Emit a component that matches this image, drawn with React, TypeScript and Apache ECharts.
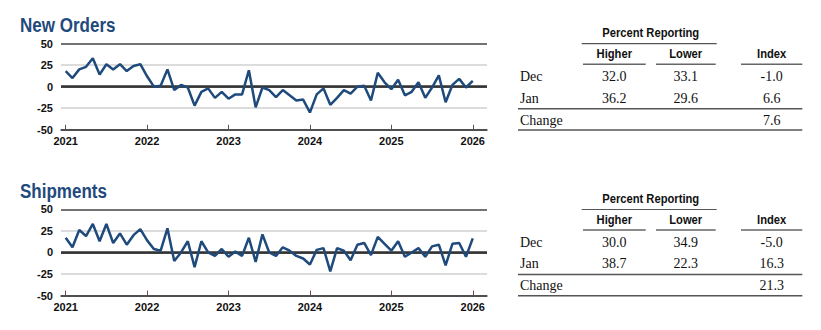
import React, { useEffect, useRef } from "react";
import * as echarts from "echarts";

// ---- data ----
const yearLabels = ["2021", "2022", "2023", "2024", "2025", "2026"];
const yearTickMonths = [0, 12, 24, 36, 48, 60];

const newOrders = [
  18, 10, 20, 23, 33, 14, 26, 20, 26, 18, 24, 26,
  12, 0, 1, 20, -4, 2, -1, -22, -6, -2, -13, -6,
  -14, -9, -9, 19, -24, -1, -4, -12, -4, -10, -16, -15,
  -30, -9, -2, -21, -13, -4, -8, 0, 1, -16, 16, 5,
  -3, 8, -10, -6, 5, -13, -1, 13, -18, 2, 9, -1.0,
  6.6,
];

const shipments = [
  17, 6, 26, 19, 33, 13, 33, 11, 22, 9, 20, 27,
  14, 4, 2, 28, -10, 0, 13, -17, 13, 0, -4, 4,
  -5, 1, -4, 17, -11, 21, 0, -4, 6, 2, -4, -7,
  -14, 3, 5, -22, 5, 2, -9, 9, 11, -3, 18, 10,
  2, 13, -5, 0, 5, -5, 7, 9, -15, 10, 11, -5.0,
  16.3,
];

const tableHeader = "Percent Reporting";
const tableColumns = ["Higher", "Lower", "Index"];
const rowLabels = ["Dec", "Jan", "Change"];

const newOrdersHigher = [32.0, 36.2];
const newOrdersLower = [33.1, 29.6];
const newOrdersIndex = [-1.0, 6.6];
const newOrdersChange = 7.6;

const shipmentsHigher = [30.0, 38.7];
const shipmentsLower = [34.9, 22.3];
const shipmentsIndex = [-5.0, 16.3];
const shipmentsChange = 21.3;

// ---- styles ----
const BLUE = "#1f4a7c";
const SERIF = "'Liberation Serif', 'Times New Roman', serif";
const SANS = "'Liberation Sans', Arial, sans-serif";
const NARROW_SCALE = 0.83;

function fmt(v: number) {
  return v.toFixed(1);
}

export default function App() {
  const ref = useRef<HTMLDivElement>(null);

  useEffect(() => {
    document.body.style.margin = "0";
    const chart = echarts.init(ref.current!, null, { renderer: "svg" });

    const sections = [
      { title: "New Orders", data: newOrders, hi: newOrdersHigher, lo: newOrdersLower, idx: newOrdersIndex, chg: newOrdersChange, dy: 0 },
      { title: "Shipments", data: shipments, hi: shipmentsHigher, lo: shipmentsLower, idx: shipmentsIndex, chg: shipmentsChange, dy: 165.8 },
    ];

    const grids: any[] = [];
    const xAxes: any[] = [];
    const yAxes: any[] = [];
    const series: any[] = [];
    const graphics: any[] = [];

    const colX = [614.3, 685.7, 771.7];

    sections.forEach((s, i) => {
      const dy = s.dy;
      grids.push({ left: 61, top: 43.5 + dy, width: 426, height: 86.3 });
      xAxes.push({
        type: "value",
        gridIndex: i,
        min: -0.69,
        max: 62.1,
        axisLine: { show: true, onZero: false, lineStyle: { color: "#444", width: 1.5 } },
        axisTick: { show: true, inside: true, length: 5, customValues: yearTickMonths, lineStyle: { color: "#6a4a5a", width: 1 } },
        axisLabel: {
          show: true,
          customValues: yearTickMonths,
          formatter: (v: number) => yearLabels[Math.round(v / 12)],
          color: "#111",
          fontWeight: "bold",
          fontSize: 11,
          fontFamily: SANS,
          margin: 6,
        },
        splitLine: { show: false },
      });
      yAxes.push({
        type: "value",
        gridIndex: i,
        min: -50,
        max: 50,
        interval: 25,
        axisLine: { show: false },
        axisTick: { show: false },
        axisLabel: { color: "#111", fontWeight: "bold", fontSize: 11, fontFamily: SANS, margin: 8 },
        splitLine: {
          show: true,
          lineStyle: { color: ["#444", "#d0d0d0", "#444", "#d0d0d0", "#444"], width: 1.5 },
        },
      });
      series.push({
        type: "line",
        xAxisIndex: i,
        yAxisIndex: i,
        data: s.data.map((v, k) => [k, v]),
        showSymbol: false,
        symbol: "none",
        lineStyle: { color: BLUE, width: 2.5 },
        z: 3,
        markLine: {
          silent: true,
          symbol: "none",
          label: { show: false },
          lineStyle: { color: "#333", width: 2.5, type: "solid" },
          data: [{ yAxis: 0 }],
          z: 2,
        },
      });

      // title
      graphics.push({
        type: "text",
        x: 20,
        y: 25 + dy,
        scaleX: NARROW_SCALE,
        style: { text: s.title, fill: BLUE, font: `bold 20.5px ${SANS}`, align: "left", verticalAlign: "middle" },
      });

      // table header
      graphics.push({
        type: "text",
        x: 650.7,
        y: 33 + dy,
        scaleX: NARROW_SCALE,
        style: { text: tableHeader, fill: "#111", font: `bold 13.5px ${SANS}`, align: "center", verticalAlign: "middle" },
      });
      graphics.push({ type: "line", shape: { x1: 581.7, y1: 43.7 + dy, x2: 716.7, y2: 43.7 + dy }, style: { stroke: "#555", lineWidth: 1.2 } });
      tableColumns.forEach((c, k) => {
        graphics.push({
          type: "text",
          x: colX[k],
          y: 53.5 + dy,
          scaleX: NARROW_SCALE,
          style: { text: c, fill: "#111", font: `bold 13.5px ${SANS}`, align: "center", verticalAlign: "middle" },
        });
      });
      const underlines = [[583, 645.7], [656, 715.7], [741, 802.3]];
      underlines.forEach(([a, b]) => {
        graphics.push({ type: "line", shape: { x1: a, y1: 64.3 + dy, x2: b, y2: 64.3 + dy }, style: { stroke: "#666", lineWidth: 1.5 } });
      });

      const rowsY = [76.7, 98, 120];
      [0, 1].forEach((r) => {
        graphics.push({ type: "text", x: 520, y: rowsY[r] + dy, style: { text: rowLabels[r], fill: "#111", font: `14px ${SERIF}`, align: "left", verticalAlign: "middle" } });
        [s.hi[r], s.lo[r], s.idx[r]].forEach((v, k) => {
          graphics.push({ type: "text", x: colX[k], y: rowsY[r] + dy, style: { text: fmt(v), fill: "#111", font: `14px ${SERIF}`, align: "center", verticalAlign: "middle" } });
        });
      });
      graphics.push({ type: "line", shape: { x1: 518, y1: 108.7 + dy, x2: 802.3, y2: 108.7 + dy }, style: { stroke: "#555", lineWidth: 1.5 } });
      graphics.push({ type: "text", x: 520, y: rowsY[2] + dy, style: { text: rowLabels[2], fill: "#111", font: `14px ${SERIF}`, align: "left", verticalAlign: "middle" } });
      graphics.push({ type: "text", x: colX[2], y: rowsY[2] + dy, style: { text: fmt(s.chg), fill: "#111", font: `14px ${SERIF}`, align: "center", verticalAlign: "middle" } });
      graphics.push({ type: "line", shape: { x1: 518, y1: 130 + dy, x2: 802.3, y2: 130 + dy }, style: { stroke: "#555", lineWidth: 1.5 } });
    });

    chart.setOption({
      animation: false,
      backgroundColor: "#fff",
      grid: grids,
      xAxis: xAxes,
      yAxis: yAxes,
      series,
      graphic: { elements: graphics },
    });

    return () => chart.dispose();
  }, []);

  return <div ref={ref} style={{ width: 821, height: 330 }} />;
}
